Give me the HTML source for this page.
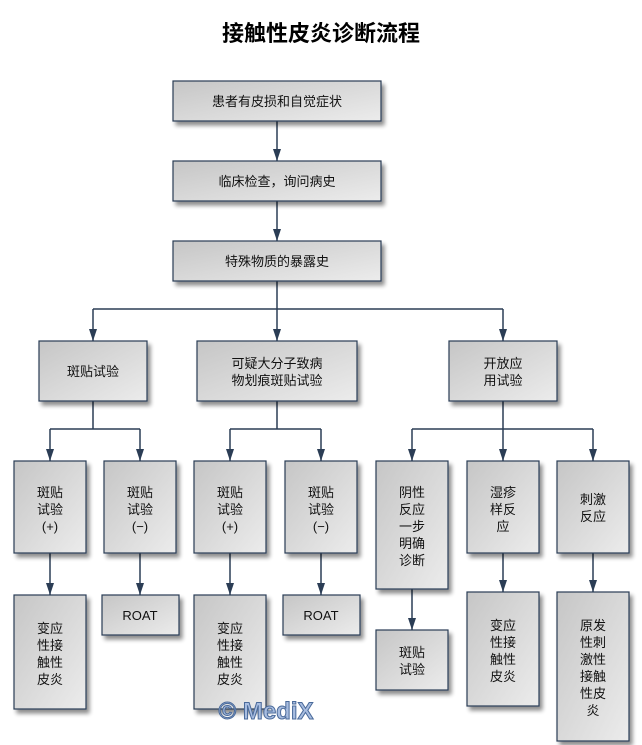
<!DOCTYPE html>
<html><head><meta charset="utf-8"><style>
html,body{margin:0;padding:0;background:#fff;width:642px;height:745px;overflow:hidden}
svg text{font-family:"Liberation Sans","Noto Sans CJK SC",sans-serif;font-size:13px;fill:#111}
</style></head><body>
<svg width="642" height="745" xmlns="http://www.w3.org/2000/svg">
<defs>
<linearGradient id="g" x1="0" y1="0" x2="1" y2="1"><stop offset="0" stop-color="#c6c6c6"/><stop offset="1" stop-color="#ececec"/></linearGradient>
<filter id="s" x="-20%" y="-20%" width="150%" height="150%"><feGaussianBlur in="SourceAlpha" stdDeviation="2"/><feOffset dx="3" dy="4"/><feComponentTransfer><feFuncA type="linear" slope="0.45"/></feComponentTransfer><feMerge><feMergeNode/><feMergeNode in="SourceGraphic"/></feMerge></filter>
<marker id="a" markerWidth="12" markerHeight="8" refX="12" refY="4" orient="auto" markerUnits="userSpaceOnUse"><path d="M0,0 L12,4 L0,8 Z" fill="#2b3d55"/></marker>
</defs>
<text x="321" y="41" text-anchor="middle" style="font-size:22px;font-weight:bold;fill:#000">接触性皮炎诊断流程</text>
<g stroke="#2b3d55" stroke-width="1.5" fill="none">
<path d="M277 121V161" marker-end="url(#a)"/>
<path d="M277 201V241" marker-end="url(#a)"/>
<path d="M277 281V309"/>
<path d="M93 309H503"/>
<path d="M93 309V341" marker-end="url(#a)"/>
<path d="M277 309V341" marker-end="url(#a)"/>
<path d="M503 309V341" marker-end="url(#a)"/>
<path d="M93 401V429M50 429H140"/>
<path d="M50 429V461" marker-end="url(#a)"/><path d="M140 429V461" marker-end="url(#a)"/>
<path d="M277 401V429M230 429H321"/>
<path d="M230 429V461" marker-end="url(#a)"/><path d="M321 429V461" marker-end="url(#a)"/>
<path d="M503 401V429M412 429H593"/>
<path d="M412 429V461" marker-end="url(#a)"/><path d="M503 429V461" marker-end="url(#a)"/><path d="M593 429V461" marker-end="url(#a)"/>
<path d="M50 553V595" marker-end="url(#a)"/>
<path d="M140 553V595" marker-end="url(#a)"/>
<path d="M230 553V595" marker-end="url(#a)"/>
<path d="M321 553V595" marker-end="url(#a)"/>
<path d="M412 589V630" marker-end="url(#a)"/>
<path d="M503 553V592" marker-end="url(#a)"/>
<path d="M593 553V592" marker-end="url(#a)"/>
</g>
<g fill="url(#g)" stroke="#2b3d55" stroke-width="1.2" filter="url(#s)">
<rect x="173" y="81" width="208" height="40"/>
<rect x="173" y="161" width="208" height="40"/>
<rect x="173" y="241" width="208" height="40"/>
<rect x="39" y="341" width="108" height="60"/>
<rect x="197" y="341" width="160" height="60"/>
<rect x="449" y="341" width="108" height="60"/>
<rect x="14" y="461" width="72" height="92"/>
<rect x="104" y="461" width="72" height="92"/>
<rect x="194" y="461" width="72" height="92"/>
<rect x="285" y="461" width="72" height="92"/>
<rect x="376" y="461" width="72" height="128"/>
<rect x="467" y="461" width="72" height="92"/>
<rect x="557" y="461" width="72" height="92"/>
<rect x="14" y="595" width="72" height="114"/>
<rect x="102" y="595" width="77" height="40"/>
<rect x="194" y="595" width="72" height="114"/>
<rect x="283" y="595" width="77" height="40"/>
<rect x="376" y="630" width="72" height="60"/>
<rect x="467" y="592" width="72" height="114"/>
<rect x="557" y="592" width="72" height="149"/>
</g>
<g text-anchor="middle">
<text x="277" y="106">患者有皮损和自觉症状</text>
<text x="277" y="186">临床检查，询问病史</text>
<text x="277" y="266">特殊物质的暴露史</text>
<text x="93" y="376">斑贴试验</text>
<text x="277" y="368">可疑大分子致病</text><text x="277" y="385">物划痕斑贴试验</text>
<text x="503" y="368">开放应</text><text x="503" y="385">用试验</text>
<text x="50" y="497">斑贴</text><text x="50" y="514">试验</text><text x="50" y="531">(+)</text>
<text x="140" y="497">斑贴</text><text x="140" y="514">试验</text><text x="140" y="531">(−)</text>
<text x="230" y="497">斑贴</text><text x="230" y="514">试验</text><text x="230" y="531">(+)</text>
<text x="321" y="497">斑贴</text><text x="321" y="514">试验</text><text x="321" y="531">(−)</text>
<text x="412" y="497">阴性</text><text x="412" y="514">反应</text><text x="412" y="531">一步</text><text x="412" y="548">明确</text><text x="412" y="565">诊断</text>
<text x="503" y="497">湿疹</text><text x="503" y="514">样反</text><text x="503" y="531">应</text>
<text x="593" y="504">刺激</text><text x="593" y="521">反应</text>
<text x="50" y="633">变应</text><text x="50" y="650">性接</text><text x="50" y="667">触性</text><text x="50" y="684">皮炎</text>
<text x="140" y="620">ROAT</text>
<text x="230" y="633">变应</text><text x="230" y="650">性接</text><text x="230" y="667">触性</text><text x="230" y="684">皮炎</text>
<text x="321" y="620">ROAT</text>
<text x="412" y="657">斑贴</text><text x="412" y="674">试验</text>
<text x="503" y="630">变应</text><text x="503" y="647">性接</text><text x="503" y="664">触性</text><text x="503" y="681">皮炎</text>
<text x="593" y="630">原发</text><text x="593" y="647">性刺</text><text x="593" y="664">激性</text><text x="593" y="681">接触</text><text x="593" y="698">性皮</text><text x="593" y="715">炎</text>
</g>
<text x="266" y="719" text-anchor="middle" style="font-size:24px;font-weight:bold;fill:#a8bde0;stroke:#4a6a9a;stroke-width:1">© MediX</text>
</svg>
</body></html>
